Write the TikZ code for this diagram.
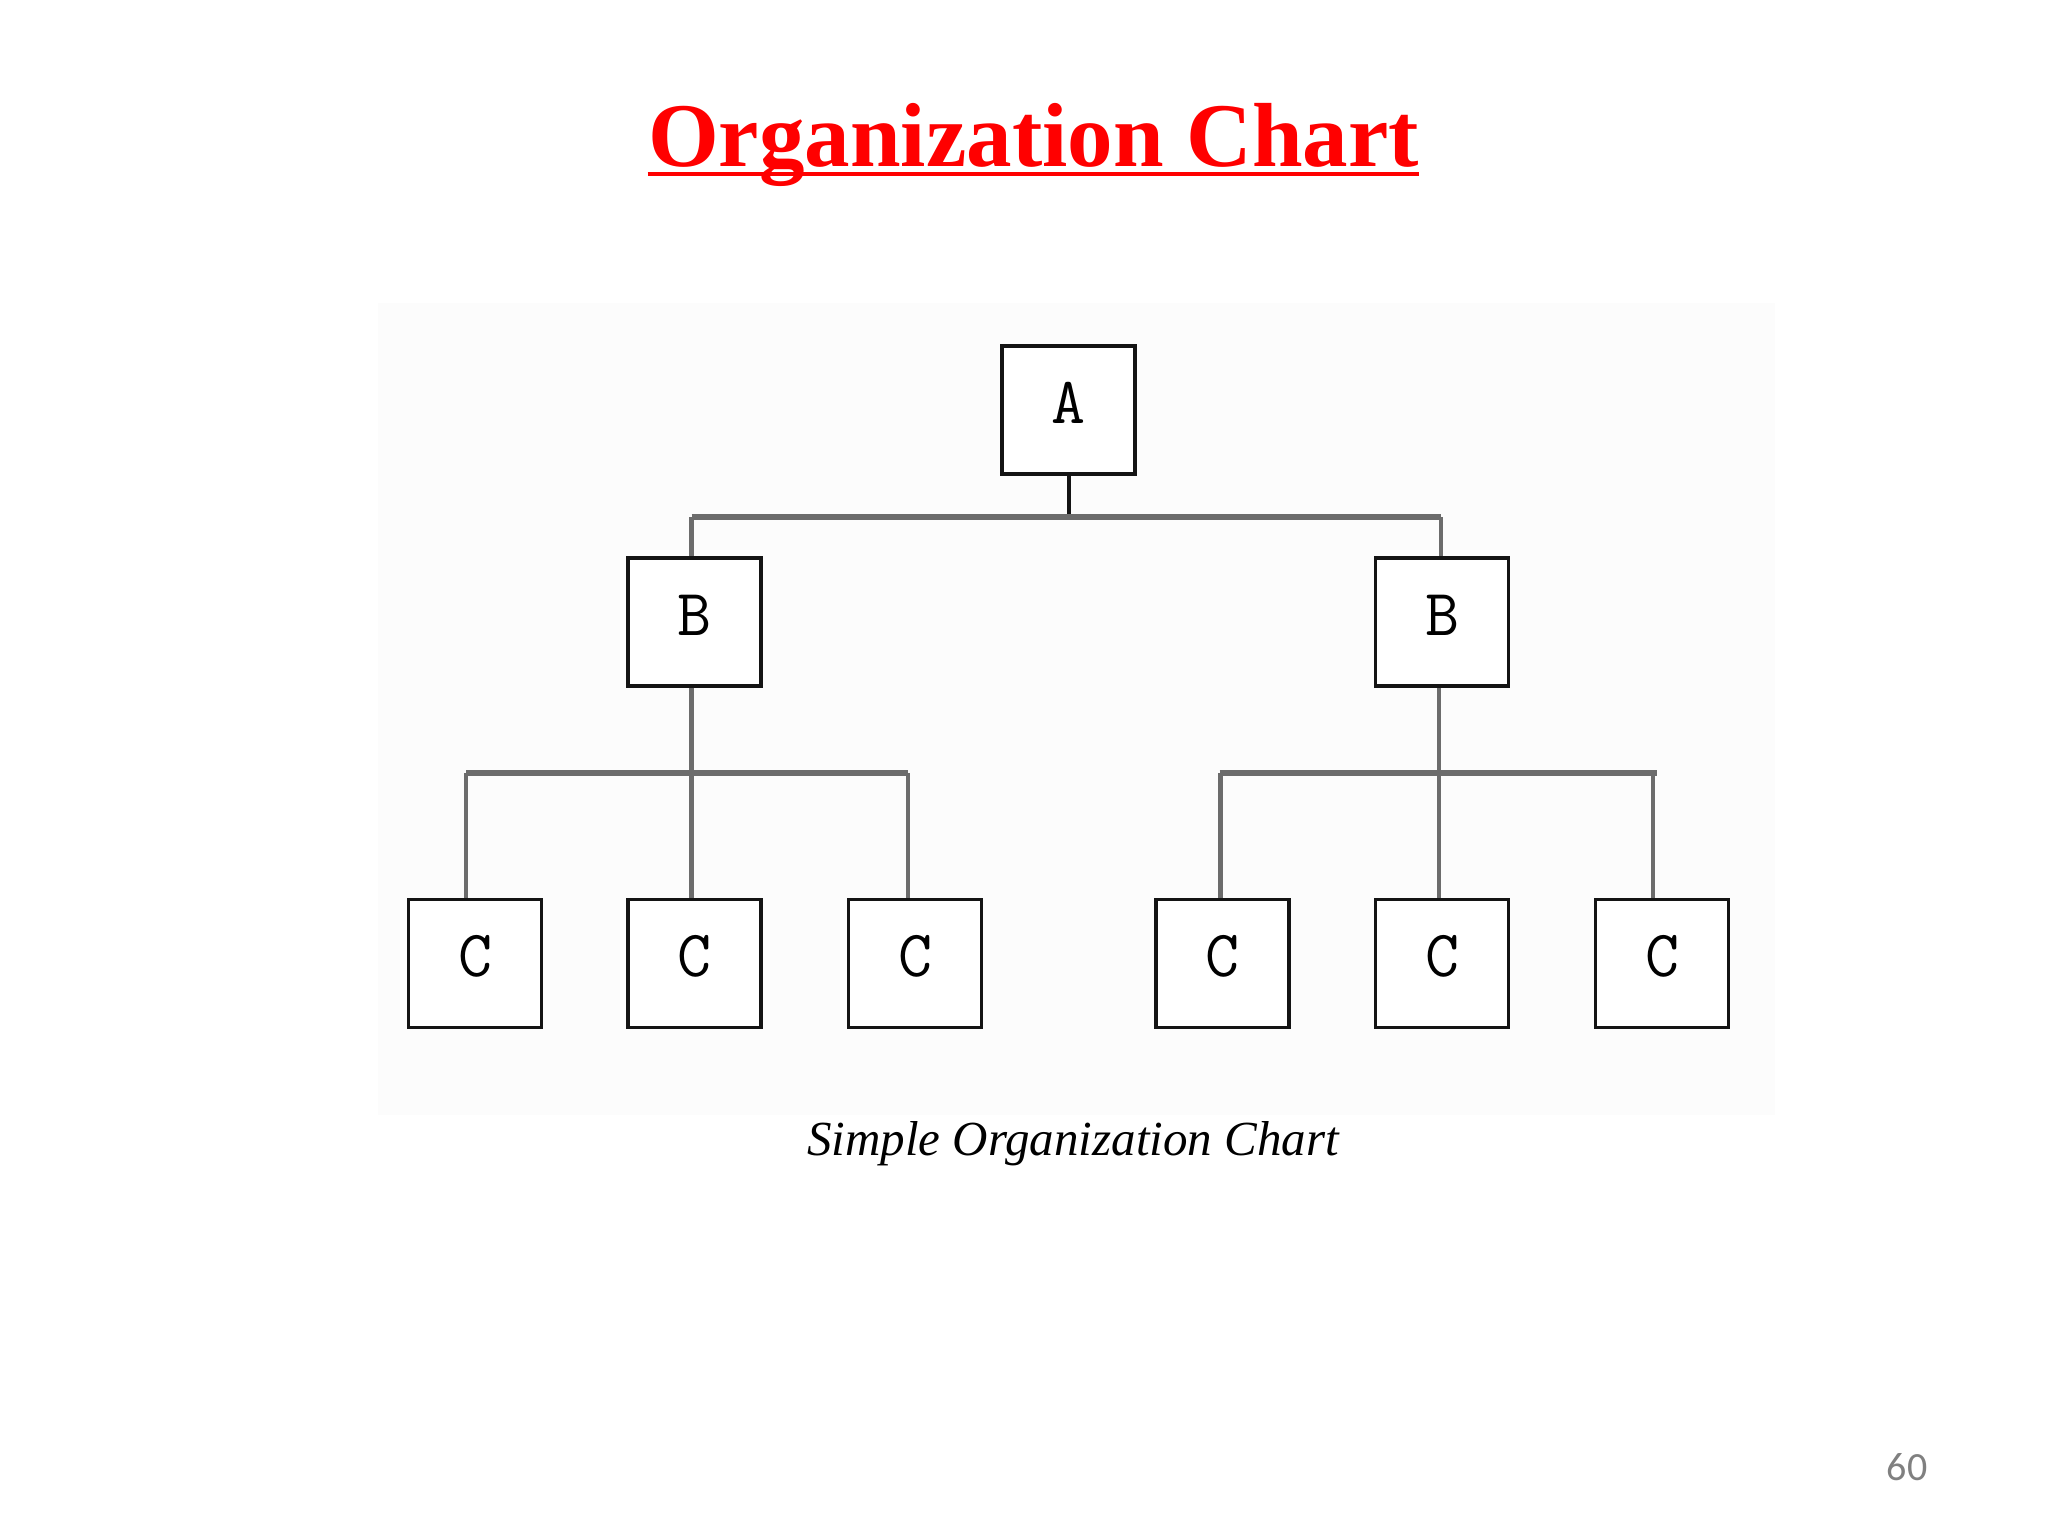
\documentclass[tikz,border=0pt]{standalone}
\usepackage{fontspec}
\setmainfont{Liberation Serif}
\newfontfamily\numfont{Carlito}
\definecolor{linegray}{RGB}{108,108,108}
\definecolor{boxblack}{RGB}{20,20,20}
\definecolor{panel}{RGB}{252,252,252}
\definecolor{pagenum}{RGB}{128,128,128}
\tikzset{
  orgbox/.style={draw=boxblack, line width=1.75pt, fill=white, minimum width=66.5pt, minimum height=64pt,
    inner sep=0pt, text height=20pt, text depth=7pt, font=\ttfamily\fontsize{33}{38}\selectfont},
  hbar/.style={draw=linegray, line width=2.9pt},
  vbar/.style={draw=linegray, line width=2.2pt},
  topstem/.style={draw=boxblack, line width=2pt}
}
\begin{document}
\begin{tikzpicture}[x=0.5pt, y=-0.5pt]
\useasboundingbox (0,0) rectangle (2048,1536);
\fill[white] (0,0) rectangle (2048,1536);
\fill[panel] (378,303) rectangle (1775,1115);

% title
\node[anchor=base, inner sep=0pt, text=red, font=\fontsize{45.5}{50}\selectfont\bfseries] (title) at (1033.5,166) {Organization Chart};
\draw[red, line width=2pt] ([yshift=-4pt]title.base west) -- ([yshift=-4pt]title.base east);

% nodes
\node[orgbox] (a)  at (1068.5,410) {A};
\node[orgbox] (b1) at (694.5,622) {B};
\node[orgbox] (b2) at (1442,622) {B};
\node[orgbox] (c1) at (475,963.5) {C};
\node[orgbox] (c2) at (694.5,963.5) {C};
\node[orgbox] (c3) at (915,963.5) {C};
\node[orgbox] (c4) at (1222.5,963.5) {C};
\node[orgbox] (c5) at (1442,963.5) {C};
\node[orgbox] (c6) at (1662,963.5) {C};

% bar levels
\coordinate (top) at (0,517);
\coordinate (low) at (0,773);

% connectors A -> B
\draw[topstem] (a.south) -- (a.south |- top);
\draw[vbar] ([xshift=-1.5pt]b1.north |- top) -- ([xshift=-1.5pt]b1.north);
\draw[vbar] ([xshift=-0.5pt]b2.north |- top) -- ([xshift=-0.5pt]b2.north);
\draw[hbar] ([xshift=-1.5pt]b1.north |- top) -- ([xshift=-0.5pt]b2.north |- top);

% connectors B1 -> C1..C3
\draw[vbar] ([xshift=-1.5pt]b1.south) -- ([xshift=-1.5pt]c2.north);
\draw[vbar] ([xshift=-4.5pt]c1.north |- low) -- ([xshift=-4.5pt]c1.north);
\draw[vbar] ([xshift=-3.5pt]c3.north |- low) -- ([xshift=-3.5pt]c3.north);
\draw[hbar] ([xshift=-4.5pt]c1.north |- low) -- ([xshift=-3.5pt]c3.north |- low);

% connectors B2 -> C4..C6
\draw[vbar] ([xshift=-1.5pt]b2.south) -- ([xshift=-1.5pt]c5.north);
\draw[vbar] ([xshift=-1pt]c4.north |- low) -- ([xshift=-1pt]c4.north);
\draw[vbar] ([xshift=-4.5pt]c6.north |- low) -- ([xshift=-4.5pt]c6.north);
\draw[hbar] ([xshift=-1.5pt]c4.north |- low) -- ([xshift=-2.5pt]c6.north |- low);

% caption
\node[anchor=base, inner sep=0pt, font=\fontsize{24.5}{30}\selectfont\itshape] (caption) at (1073,1155) {Simple Organization Chart};

% page number
\node[anchor=base, inner sep=0pt, text=pagenum, font=\numfont\fontsize{20}{24}\selectfont] (pg) at (1907,1480) {60};
\end{tikzpicture}
\end{document}
